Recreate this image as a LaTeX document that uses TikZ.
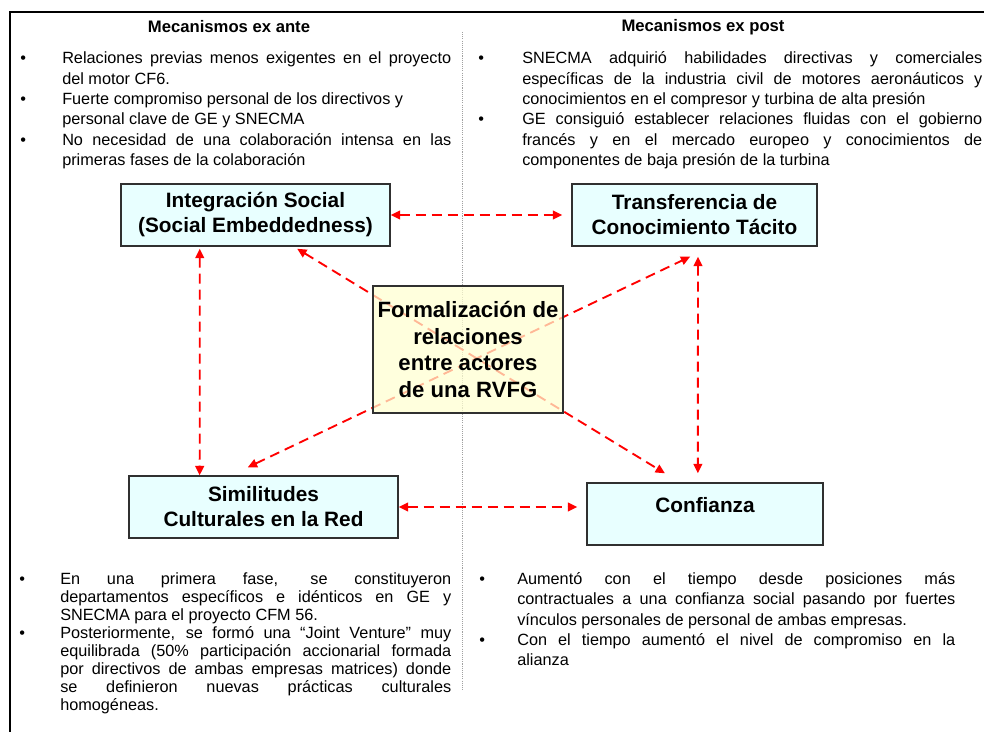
\documentclass[tikz,border=0pt]{standalone}
\usepackage{fontspec}
\setmainfont{Liberation Sans}
\usetikzlibrary{arrows.meta,calc}
\definecolor{boxcyan}{HTML}{E8FFFF}
\definecolor{boxyellow}{HTML}{FFFFD0}
\definecolor{boxedge}{HTML}{303030}
\definecolor{linkred}{HTML}{FF0000}
\definecolor{divgray}{HTML}{A0A0A0}
\newlength{\bhang}
\newcommand{\bitem}[1]{\par\noindent\hangindent=\bhang\hangafter=1\makebox[\bhang][l]{\strut•}#1\par}
\newcommand{\nohyph}{\hyphenpenalty=10000\relax\exhyphenpenalty=10000\relax\tolerance=10000\relax}
\begin{document}
\begin{tikzpicture}[x=0.75pt,y=-0.75pt,
  concept/.style={draw=boxedge, line width=1.1pt, fill=boxcyan, inner sep=0pt, align=center,
    minimum height=46.5pt, font=\fontsize{15.6}{18.75}\selectfont\bfseries},
  central/.style={draw=boxedge, line width=1.1pt, fill=boxyellow, fill opacity=0.72,
    draw opacity=1, text opacity=1, inner sep=0pt, align=center,
    font=\fontsize{16.6}{19.9}\selectfont\bfseries},
  link/.style={draw=linkred, line width=1.4pt, dash pattern=on 7.5pt off 4.5pt,
    {Triangle[length=7pt,width=6.5pt]}-{Triangle[length=7pt,width=6.5pt]}},
  frameline/.style={line width=1.5pt},
  divider/.style={draw=divgray, line width=0.6pt, dash pattern=on 0.8pt off 0.8pt},
  head/.style={inner sep=0pt, font=\fontsize{12.5}{15}\selectfont\bfseries},
  txt/.style={anchor=north west, inner sep=0pt, align=justify,
    font=\fontsize{12.2}{15.3}\selectfont\nohyph},
  txttight/.style={txt, font=\fontsize{12.2}{13.5}\selectfont\nohyph},
  txtbr/.style={txt, font=\fontsize{12.2}{15.2}\selectfont\nohyph}
]
\useasboundingbox (0,0) rectangle (984,731);

% frame and divider
\draw[frameline] (10,735) -- (10,12) -- (990,12);
\coordinate (divtop) at (462,32);
\coordinate (divbot) at (462,690);
\draw[divider] (divtop) -- (divbot);

% headers
\node[head] (hl) at (229,27) {Mecanismos ex ante};
\node[head] (hr) at (703,27) {Mecanismos ex post};

% top texts
\node[txt, text width=323.25pt] (tl) at (20,43) {\setlength{\bhang}{31.5pt}%
\bitem{Relaciones previas menos exigentes en el proyecto\linebreak del motor CF6.}%
\bitem{Fuerte compromiso personal de los directivos y\\ personal clave de GE y SNECMA}%
\bitem{No necesidad de una colaboración intensa en las\linebreak primeras fases de la colaboración}};

\node[txt, text width=378pt] (tr) at (478,43) {\setlength{\bhang}{33pt}%
\bitem{SNECMA adquirió habilidades directivas y comerciales\linebreak específicas de la industria civil de motores aeronáuticos y\linebreak conocimientos en el compresor y turbina de alta presión}%
\bitem{GE consiguió establecer relaciones fluidas con el gobierno\linebreak francés y en el mercado europeo y conocimientos de\linebreak componentes de baja presión de la turbina}};

% concept boxes
\node[concept, minimum width=201.75pt] (int) at (255.5,215) {Integración Social\\(Social Embeddedness)};
\node[concept, minimum width=183.75pt] (trans) at (694.5,215) {Transferencia de\\Conocimiento Tácito};
\node[concept, minimum width=201.75pt] (sim) at (263.5,507) {Similitudes\\Culturales en la Red};
\node[concept, minimum width=177pt] (conf) at (705,514) {};
\node[inner sep=0pt, font=\fontsize{15.6}{18.75}\selectfont\bfseries] (conft) at (705,505) {Confianza};

% connectors
\draw[link, shorten >=6.75pt] (int.east) -- (trans.west);
\draw[link, shorten >=6.75pt] (sim.east) -- (sim.east -| conf.west);
\draw[link, shorten <=1.5pt] ($(int.south west)!0.294!(int.south east)$) -- ($(sim.north west)!0.264!(sim.north east)$);
\draw[link, shorten <=7.5pt, shorten >=6.75pt] ($(trans.south west)!0.514!(trans.south east)$) -- ($(conf.north west)!0.47!(conf.north east)$);
\draw[link, shorten <=2.9pt, shorten >=12.9pt] ($(int.south west)!0.642!(int.south east)$) -- ($(conf.north west)!0.393!(conf.north east)$);
\draw[link, shorten <=13.9pt, shorten >=17.3pt] ($(sim.north west)!0.380!(sim.north east)$) -- ($(trans.south west)!0.567!(trans.south east)$);

% central box
\node[central, minimum width=142.5pt, minimum height=95.25pt] (formal) at (468,349.5) {Formalización de\\relaciones\\entre actores\\de una RVFG};

% bottom texts
\node[txttight, text width=324pt] (bl) at (19,566) {\setlength{\bhang}{30.75pt}%
\bitem{En una primera fase, se constituyeron\linebreak departamentos específicos e idénticos en GE y\linebreak SNECMA para el proyecto CFM 56.}%
\bitem{Posteriormente, se formó una “Joint Venture” muy\linebreak equilibrada (50\% participación accionarial formada\linebreak por directivos de ambas empresas matrices) donde\linebreak se definieron nuevas prácticas culturales\linebreak homogéneas.}};

\node[txtbr, text width=357pt] (br) at (479,564) {\setlength{\bhang}{28.5pt}%
\bitem{Aumentó con el tiempo desde posiciones más\linebreak contractuales a una confianza social pasando por fuertes\linebreak vínculos personales de personal de ambas empresas.}%
\bitem{Con el tiempo aumentó el nivel de compromiso en la\linebreak alianza}};
\end{tikzpicture}
\end{document}
